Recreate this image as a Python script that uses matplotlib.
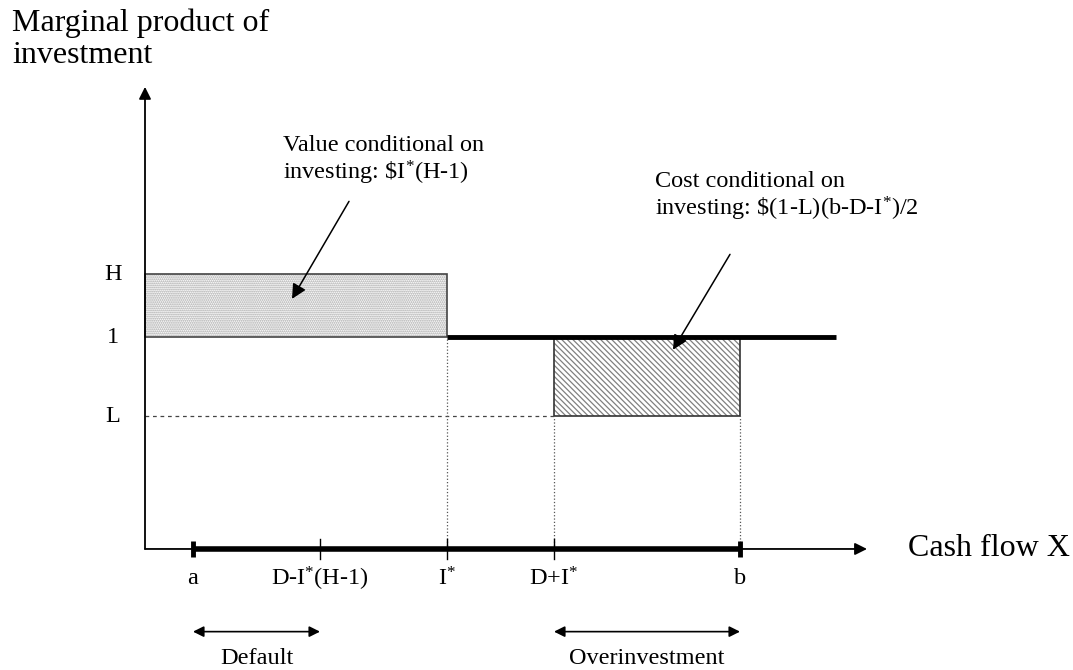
import matplotlib
matplotlib.use('Agg')
import matplotlib.pyplot as plt
from matplotlib.patches import Rectangle

plt.rcParams['font.family'] = ['Liberation Serif', 'DejaVu Serif']
plt.rcParams['mathtext.fontset'] = 'custom'
plt.rcParams['mathtext.rm'] = 'Liberation Serif'
plt.rcParams['mathtext.it'] = 'Liberation Serif'
plt.rcParams['hatch.linewidth'] = 0.9

IS = r'$\mathregular{I^{*}}$'

# positions on the cash flow axis
x_names = ['a', 'D-' + IS + '(H-1)', IS, 'D+' + IS, 'b']
x_pos = [0.48, 1.75, 3.02, 4.09, 5.95]
x_end = 7.22        # end of horizontal axis (arrow tip)
line_end = 6.91     # end of the thick line at level 1

# levels of the marginal product
y_names = ['H', '1', 'L']
y_levels = [1.297, 1.0, 0.627]
y_top = 2.18

# ranges shown with double arrows below the axis
range_names = ['Default', 'Overinvestment']
range_start = [0.48, 4.09]
range_stop = [1.75, 5.95]

H, ONE, L = y_levels
a, dlow, istar, dplus, b = x_pos

fig = plt.figure(figsize=(10.73, 6.70), dpi=100)
ax = fig.add_axes([0, 0, 1, 1])
ax.set_xlim(-1.45, 9.28)
ax.set_ylim(-0.571, 2.590)
ax.axis('off')

arrow = dict(arrowstyle='-|>', color='black', lw=1.3, mutation_scale=18,
             shrinkA=0, shrinkB=0)

# axes with arrows
ax.annotate('', xy=(0, y_top), xytext=(0, 0), arrowprops=arrow)
ax.annotate('', xy=(x_end, 0), xytext=(0, 0), arrowprops=arrow)

# value box (stippled)
ax.add_patch(Rectangle((0, ONE), istar, H - ONE, facecolor='white',
                       edgecolor='#a0a0a0', hatch='........', lw=0))
ax.add_patch(Rectangle((0, ONE), istar, H - ONE, fill=False,
                       edgecolor='#444444', lw=1.2))

# cost box (hatched)
ax.add_patch(Rectangle((dplus, L), b - dplus, ONE - L, facecolor='white',
                       edgecolor='#808080', hatch='\\' * 6, lw=0))
ax.add_patch(Rectangle((dplus, L), b - dplus, ONE - L, fill=False,
                       edgecolor='#333333', lw=1.2))

# marginal product line at 1
ax.plot([istar, line_end], [ONE, ONE], color='black', lw=3.5,
        solid_capstyle='butt')

# dashed line at L
ax.plot([0, dplus], [L, L], color='#444444', lw=0.9, ls=(0, (3, 3)))

# dotted verticals
ax.plot([istar, istar], [0, ONE], color='#555555', lw=0.9, ls=':')
ax.plot([dplus, dplus], [0, L], color='#555555', lw=0.9, ls=':')
ax.plot([b, b], [0, L], color='#555555', lw=0.9, ls=':')

# thick support segment on x axis
ax.plot([a, b], [0, 0], color='black', lw=4, solid_capstyle='butt')
for i, xv in enumerate(x_pos):
    if i in (0, len(x_pos) - 1):
        ax.plot([xv, xv], [-0.036, 0.036], color='black', lw=3.5,
                solid_capstyle='butt')
    else:
        ax.plot([xv, xv], [-0.047, 0.047], color='black', lw=1.0)
    ax.text(xv, -0.14, x_names[i], ha='center', va='center', fontsize=17.5)

for name, yv in zip(y_names, y_levels):
    ax.text(-0.32, yv, name, ha='center', va='center', fontsize=17.5)

# axis titles
ax.text(-1.33, 2.55, 'Marginal product of\ninvestment', ha='left', va='top',
        fontsize=23, linespacing=1.12)
ax.text(7.63, 0.0, 'Cash flow X', ha='left', va='center', fontsize=23)

# annotations
ax.text(1.38, 1.745, 'Value conditional on\ninvesting: \\$' + IS + '(H-1)',
        ha='left', va='baseline', fontsize=17.5, linespacing=1.1)
ax.annotate('', xy=(1.47, 1.18), xytext=(2.04, 1.64),
            arrowprops=dict(arrowstyle='-|>', color='black', lw=1.1,
                            mutation_scale=22, shrinkA=0, shrinkB=0))

ax.text(5.10, 1.575, 'Cost conditional on\ninvesting: \\$(1-L)(b-D-' + IS + ')/2',
        ha='left', va='baseline', fontsize=17.5, linespacing=1.1)
ax.annotate('', xy=(5.28, 0.94), xytext=(5.85, 1.39),
            arrowprops=dict(arrowstyle='-|>', color='black', lw=1.1,
                            mutation_scale=22, shrinkA=0, shrinkB=0))

# ranges below the axis
for name, x0, x1 in zip(range_names, range_start, range_stop):
    ax.annotate('', xy=(x1, -0.39), xytext=(x0, -0.39),
                arrowprops=dict(arrowstyle='<|-|>', color='black', lw=1.2,
                                mutation_scale=16, shrinkA=0, shrinkB=0))
    ax.text((x0 + x1) / 2, -0.515, name, ha='center', va='center',
            fontsize=17.5)

fig.savefig('out.png', dpi=100)
